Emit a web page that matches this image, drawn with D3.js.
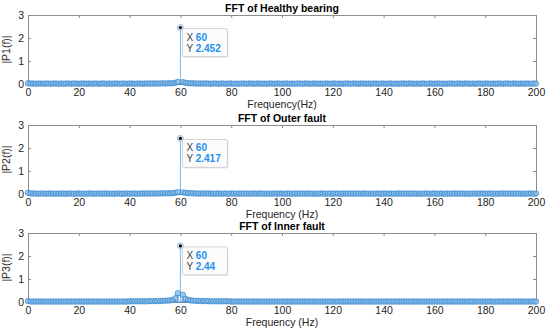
<!DOCTYPE html>
<html>
<head>
<meta charset="utf-8">
<script src="https://cdn.jsdelivr.net/npm/d3@7"></script>
<style>
body { margin: 0; background: #fff; }
svg text { font-family: Arial, "Liberation Sans", sans-serif; }
</style>
</head>
<body>
<div id="chart"></div>
<script>
// frequency bins 0..200 Hz, 1 Hz apart
var freqs = d3.range(0, 201);

var xTicks = [0, 20, 40, 60, 80, 100, 120, 140, 160, 180, 200];
var yTicks = [0, 1, 2, 3];

var titles = ["FFT of Healthy bearing", "FFT of Outer fault", "FFT of Inner fault"];
var yLabels = ["|P1(f)|", "|P2(f)|", "|P3(f)|"];
var xLabels = ["Frequency(Hz)", "Frequency (Hz)", "Frequency (Hz)"];
var peakX = [60, 60, 60];
var peakY = [2.452, 2.417, 2.44];

var healthy = [
  .03,.02,.02,.01,.02,.02,.01,.02,.02,.01,.02,.02,.01,.02,.01,.02,.02,.01,.02,.02,
  .01,.02,.02,.01,.02,.01,.02,.02,.01,.02,.02,.01,.02,.01,.02,.02,.01,.02,.02,.01,
  .02,.02,.01,.02,.02,.01,.02,.02,.02,.02,.02,.02,.02,.03,.02,.03,.03,.03,.05,.09,
  2.452,.08,.05,.03,.03,.03,.02,.02,.02,.02,.02,.02,.01,.02,.02,.01,.02,.02,.01,.02,
  .02,.01,.02,.01,.02,.02,.01,.02,.02,.01,.02,.02,.01,.02,.01,.02,.02,.01,.02,.02,
  .01,.02,.02,.01,.02,.01,.02,.02,.01,.02,.02,.01,.02,.02,.01,.02,.01,.02,.02,.01,
  .02,.02,.01,.02,.01,.02,.02,.01,.02,.02,.01,.02,.02,.01,.02,.01,.02,.02,.01,.02,
  .02,.01,.02,.02,.01,.02,.01,.02,.02,.01,.02,.02,.01,.02,.01,.02,.02,.01,.02,.02,
  .01,.02,.02,.01,.02,.01,.02,.02,.01,.02,.02,.01,.02,.02,.01,.02,.01,.02,.02,.01,
  .02,.02,.01,.02,.01,.02,.02,.01,.02,.02,.01,.02,.02,.01,.02,.01,.02,.02,.01,.02,
  .02
];

var outer = [
  .05,.02,.02,.02,.01,.02,.02,.01,.02,.02,.01,.02,.01,.02,.02,.01,.02,.02,.01,.02,
  .02,.01,.02,.01,.02,.02,.01,.02,.02,.01,.02,.02,.01,.02,.01,.02,.02,.01,.02,.02,
  .01,.02,.02,.01,.02,.02,.02,.02,.02,.02,.02,.02,.03,.02,.03,.03,.03,.04,.05,.08,
  2.417,.07,.05,.04,.03,.03,.02,.02,.02,.02,.02,.02,.02,.01,.02,.02,.01,.02,.02,.01,
  .02,.02,.01,.02,.01,.02,.02,.01,.02,.02,.01,.02,.02,.01,.02,.01,.02,.02,.01,.02,
  .02,.01,.02,.02,.01,.02,.01,.02,.02,.01,.02,.02,.01,.02,.01,.02,.02,.01,.02,.02,
  .01,.02,.02,.01,.02,.01,.02,.02,.01,.02,.02,.01,.02,.02,.01,.02,.01,.02,.02,.01,
  .02,.02,.01,.02,.01,.02,.02,.01,.02,.02,.01,.02,.02,.01,.02,.01,.02,.02,.01,.02,
  .02,.01,.02,.02,.01,.02,.01,.02,.02,.01,.02,.02,.01,.02,.01,.02,.02,.01,.02,.02,
  .01,.02,.02,.01,.02,.01,.02,.02,.01,.02,.02,.01,.02,.02,.01,.02,.01,.02,.02,.01,
  .02
];

var inner = [
  .04,.02,.02,.02,.02,.02,.02,.02,.02,.02,.02,.02,.02,.02,.02,.02,.02,.02,.02,.02,
  .02,.02,.02,.02,.02,.02,.02,.02,.02,.02,.02,.02,.02,.02,.02,.02,.02,.02,.02,.02,
  .03,.03,.03,.03,.03,.03,.03,.03,.04,.04,.04,.04,.05,.05,.06,.06,.07,.09,.16,.38,
  2.44,.31,.14,.09,.07,.06,.05,.05,.04,.04,.04,.04,.03,.03,.03,.03,.03,.03,.03,.03,
  .02,.02,.02,.02,.02,.02,.02,.02,.02,.02,.02,.02,.02,.02,.02,.02,.02,.02,.02,.02,
  .02,.02,.02,.02,.02,.02,.02,.02,.02,.02,.02,.02,.02,.02,.02,.02,.02,.02,.02,.02,
  .02,.02,.02,.02,.02,.02,.02,.02,.02,.02,.02,.02,.02,.02,.02,.02,.02,.02,.02,.02,
  .02,.02,.02,.02,.02,.02,.02,.02,.02,.02,.02,.02,.02,.02,.02,.02,.02,.02,.02,.02,
  .02,.02,.02,.02,.02,.02,.02,.02,.02,.02,.02,.02,.02,.02,.02,.02,.02,.02,.02,.02,
  .02,.02,.02,.02,.02,.02,.02,.02,.02,.02,.02,.02,.02,.02,.02,.02,.02,.02,.02,.02,
  .02
];

var series = [healthy, outer, inner];

var svgWidth = 550;
var svgHeight = 332;
var panelTops = [15, 125, 233];
var panelHeight = 69;
var left = 28, right = 536;

var stemColor = "#3a8bd0";
var axisColor = "#8c8c8c";
var textColor = "#262626";

var svg = d3.select("#chart")
    .append("svg")
    .attr("width", svgWidth)
    .attr("height", svgHeight);

var x = d3.scaleLinear().domain([0, 200]).range([left, right]);

series.forEach(function(vals, i) {
    var top = panelTops[i];
    var y = d3.scaleLinear().domain([0, 3]).range([top + panelHeight, top]);
    var g = svg.append("g");

    // box + ticks (MATLAB style: ticks inside, on all four sides)
    g.append("g")
        .attr("transform", `translate(0, ${top + panelHeight})`)
        .call(d3.axisBottom(x).tickValues(xTicks).tickSizeInner(-3).tickSizeOuter(0).tickPadding(5))
        .call(s => s.select(".domain").attr("stroke", axisColor))
        .call(s => s.selectAll(".tick line").attr("stroke", axisColor))
        .call(s => s.selectAll("text").attr("fill", textColor).attr("font-size", 10.5));

    g.append("g")
        .attr("transform", `translate(0, ${top})`)
        .call(d3.axisTop(x).tickValues(xTicks).tickSizeInner(-3).tickSizeOuter(0).tickFormat(""))
        .call(s => s.select(".domain").attr("stroke", axisColor))
        .call(s => s.selectAll(".tick line").attr("stroke", axisColor));

    g.append("g")
        .attr("transform", `translate(${left}, 0)`)
        .call(d3.axisLeft(y).tickValues(yTicks).tickFormat(d3.format("d")).tickSizeInner(-3).tickSizeOuter(0).tickPadding(4))
        .call(s => s.select(".domain").attr("stroke", axisColor))
        .call(s => s.selectAll(".tick line").attr("stroke", axisColor))
        .call(s => s.selectAll("text").attr("fill", textColor).attr("font-size", 10.5));

    g.append("g")
        .attr("transform", `translate(${right}, 0)`)
        .call(d3.axisRight(y).tickValues(yTicks).tickSizeInner(-3).tickSizeOuter(0).tickFormat(""))
        .call(s => s.select(".domain").attr("stroke", axisColor))
        .call(s => s.selectAll(".tick line").attr("stroke", axisColor));

    // stems
    var pts = freqs.map((f, j) => ({f: f, v: vals[j]}));
    g.append("line")
        .attr("x1", x(0)).attr("x2", x(200))
        .attr("y1", y(0)).attr("y2", y(0))
        .attr("stroke", stemColor).attr("stroke-width", 1.2);

    g.selectAll(".stem")
        .data(pts)
        .enter()
        .append("line")
        .attr("class", "stem")
        .attr("x1", d => x(d.f)).attr("x2", d => x(d.f))
        .attr("y1", y(0)).attr("y2", d => y(d.v))
        .attr("stroke", d => d.v > 1 ? "#7db6e6" : stemColor)
        .attr("stroke-width", 1);

    g.selectAll(".mk")
        .data(pts)
        .enter()
        .append("circle")
        .attr("class", "mk")
        .attr("cx", d => x(d.f))
        .attr("cy", d => y(d.v))
        .attr("r", 2.7)
        .attr("fill", "#86bae8")
        .attr("fill-opacity", 0.7)
        .attr("stroke", stemColor)
        .attr("stroke-opacity", 0.9)
        .attr("stroke-width", 0.9);

    // title + labels
    svg.append("text")
        .attr("x", (left + right) / 2)
        .attr("y", top - 3)
        .attr("text-anchor", "middle")
        .attr("font-size", 10.5)
        .attr("font-weight", "bold")
        .attr("fill", "#000")
        .text(titles[i]);

    svg.append("text")
        .attr("x", (left + right) / 2)
        .attr("y", top + panelHeight + 24)
        .attr("text-anchor", "middle")
        .attr("font-size", 10.5)
        .attr("fill", textColor)
        .text(xLabels[i]);

    svg.append("text")
        .attr("transform", `translate(10, ${top + panelHeight / 2}) rotate(-90)`)
        .attr("text-anchor", "middle")
        .attr("font-size", 10.5)
        .attr("fill", textColor)
        .text(yLabels[i]);

    // data tip
    var px = x(peakX[i]), py = y(peakY[i]);
    g.append("circle")
        .attr("cx", px).attr("cy", py).attr("r", 3)
        .attr("fill", "#dbe9f5").attr("stroke", "#9cc3e4").attr("stroke-width", 0.8);
    g.append("circle")
        .attr("cx", px).attr("cy", py).attr("r", 1.6)
        .attr("fill", "#000");

    var tip = g.append("g").attr("transform", `translate(${px + 2}, ${py + 1})`);
    tip.append("rect")
        .attr("x", 1).attr("y", 1)
        .attr("width", 45).attr("height", 28)
        .attr("rx", 1.5)
        .attr("fill", "#e6e6e6");
    tip.append("rect")
        .attr("width", 45).attr("height", 28)
        .attr("rx", 1.5)
        .attr("fill", "#fbfbfb")
        .attr("stroke", "#c8c8c8").attr("stroke-width", 0.8);

    var lines = [["X", String(peakX[i])], ["Y", String(peakY[i])]];
    lines.forEach(function(l, k) {
        var t = tip.append("text")
            .attr("x", 4)
            .attr("y", 12 + k * 11)
            .attr("font-size", 10);
        t.append("tspan").attr("fill", "#404040").text(l[0] + " ");
        t.append("tspan").attr("fill", "#1e90f0").attr("font-weight", "bold").text(l[1]);
    });
});
</script>
</body>
</html>
